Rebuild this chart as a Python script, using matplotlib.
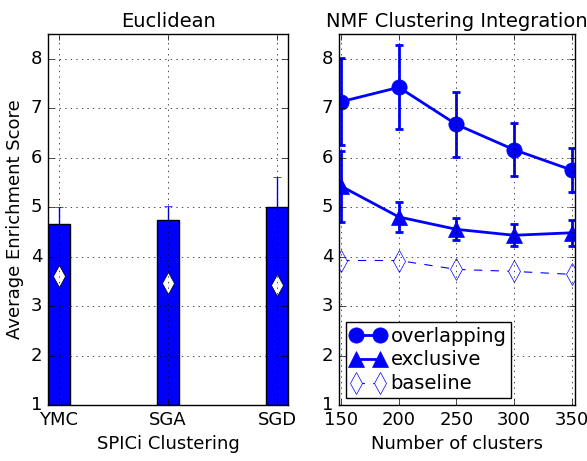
import numpy as np
import matplotlib
matplotlib.use("Agg")
import matplotlib.pyplot as plt

plt.style.use("classic")

# SPICi clustering (Euclidean)
spici_names = ["YMC", "SGA", "SGD"]
spici_scores = [4.65, 4.74, 5.0]
spici_err = [0.35, 0.29, 0.6]
spici_baseline = [3.6, 3.46, 3.43]

# NMF clustering integration
n_clusters = [150, 200, 250, 300, 350]
overlap_scores = [7.13, 7.42, 6.67, 6.16, 5.75]
overlap_err = [0.88, 0.85, 0.65, 0.53, 0.45]
exclusive_scores = [5.42, 4.80, 4.55, 4.43, 4.48]
exclusive_err = [0.72, 0.30, 0.22, 0.22, 0.26]
nmf_baseline = [3.92, 3.92, 3.74, 3.70, 3.64]

fig = plt.figure(figsize=(5.87, 4.61), dpi=100, facecolor="white")
ax1 = fig.add_axes([0.0818, 0.1215, 0.409, 0.805])
ax2 = fig.add_axes([0.5775, 0.1215, 0.402, 0.805])

pos = np.arange(len(spici_names))
ax1.bar(pos, np.array(spici_scores) - 1, width=0.2, bottom=1, color="blue",
        edgecolor="black", align="center", yerr=spici_err, ecolor="blue",
        error_kw=dict(capsize=3, elinewidth=1))
ax1.plot(pos, spici_baseline, "d", color="white", markeredgecolor="black",
         markersize=11, linestyle="none")
ax1.set_xlim(-0.1, 2.1)
ax1.set_ylim(1, 8.5)
ax1.set_xticks(pos)
ax1.set_xticklabels(spici_names)
ax1.set_yticks(range(1, 9))
ax1.grid(True)
ax1.set_title("Euclidean", fontsize=14)
ax1.set_xlabel("SPICi Clustering", fontsize=13)
ax1.set_ylabel("Average Enrichment Score", fontsize=13)

# error bars first, then the lines so the legend shows plain markers
ax2.errorbar(n_clusters, overlap_scores, yerr=overlap_err, fmt="none", ecolor="blue",
             elinewidth=2, capsize=3, capthick=2)
ax2.errorbar(n_clusters, exclusive_scores, yerr=exclusive_err, fmt="none", ecolor="blue",
             elinewidth=2, capsize=3, capthick=2)
l1, = ax2.plot(n_clusters, overlap_scores, "-o", color="blue", markeredgecolor="blue",
               markersize=11, linewidth=2, label="overlapping")
l2, = ax2.plot(n_clusters, exclusive_scores, "-^", color="blue", markeredgecolor="blue",
               markersize=11, linewidth=2, label="exclusive")
l3, = ax2.plot(n_clusters, nmf_baseline, "--d", color="blue", markerfacecolor="white",
               markeredgecolor="blue", markersize=11, linewidth=0.8, label="baseline")
ax2.set_xlim(148, 353)
ax2.set_ylim(1, 8.5)
ax2.set_xticks(n_clusters)
ax2.set_yticks(range(1, 9))
ax2.grid(True)
ax2.set_title("NMF Clustering Integration", fontsize=14)
ax2.set_xlabel("Number of clusters", fontsize=13)
ax2.legend(handles=[l1, l2, l3], loc="lower left", numpoints=2, fontsize=14,
           handlelength=1.8, borderpad=0.25, labelspacing=0.25, handletextpad=0.25,
           borderaxespad=0.35)

for ax in (ax1, ax2):
    ax.tick_params(labelsize=13)

fig.savefig("out.png", dpi=100, facecolor="white")
